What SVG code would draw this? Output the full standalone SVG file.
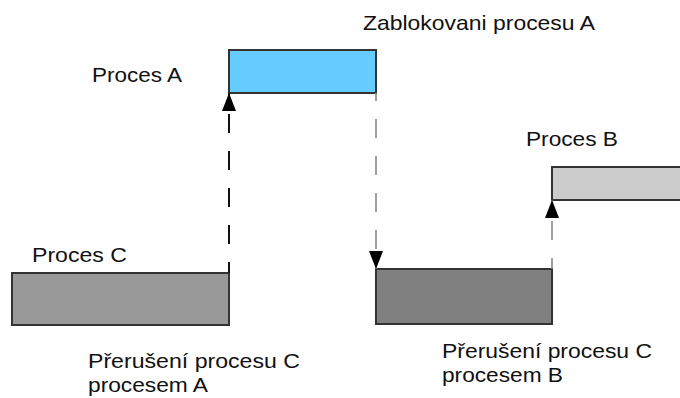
<svg xmlns="http://www.w3.org/2000/svg" width="680" height="398" viewBox="0 0 680 398">
  <style>
    .lbl { font-family: "Liberation Sans", Arial, sans-serif; font-size: 21px; fill: #111; }
    .box { stroke: #333; stroke-width: 2; }
    .dash-strong { fill: none; stroke: #111; stroke-width: 2; stroke-dasharray: 19 18; }
    .dash-light { fill: none; stroke: #888; stroke-width: 1.6; stroke-dasharray: 19 18; }
  </style>
  <defs>
    <marker id="head" markerUnits="userSpaceOnUse" markerWidth="18" markerHeight="14" viewBox="0 0 18 14" refX="18" refY="7" orient="auto">
      <path d="M0,0 L18,7 L0,14 Z" fill="#000"/>
    </marker>
  </defs>

  <rect width="680" height="398" fill="#fff"/>

  <text class="lbl" x="363" y="30" textLength="232" lengthAdjust="spacingAndGlyphs">Zablokovani procesu A</text>

  <g id="proces-a">
    <rect class="box" x="229" y="50" width="147" height="43" fill="#66CCFF"/>
    <text class="lbl" x="92" y="82" textLength="90" lengthAdjust="spacingAndGlyphs">Proces A</text>
  </g>

  <g id="proces-b">
    <rect class="box" x="552" y="167" width="132" height="33" fill="#CCCCCC"/>
    <text class="lbl" x="526" y="146" textLength="92" lengthAdjust="spacingAndGlyphs">Proces B</text>
  </g>

  <g id="proces-c">
    <rect class="box" x="12" y="273" width="217" height="52" fill="#999999"/>
    <text class="lbl" x="32" y="262" textLength="95" lengthAdjust="spacingAndGlyphs">Proces C</text>
  </g>

  <g id="proces-c-2">
    <rect class="box" x="376" y="269" width="176" height="55" fill="#808080"/>
  </g>

  <g id="connectors">
    <path class="dash-strong" d="M229,273 L229,93" stroke-dashoffset="8" marker-end="url(#head)"/>
    <path class="dash-light" d="M376,93 L376,269" stroke-dashoffset="11" marker-end="url(#head)"/>
    <path class="dash-light" d="M552,269 L552,200" stroke-dashoffset="8" marker-end="url(#head)"/>
  </g>

  <g id="note-a">
    <text class="lbl" x="88" y="368" textLength="212" lengthAdjust="spacingAndGlyphs">Přerušení procesu C</text>
    <text class="lbl" x="88" y="392" textLength="120" lengthAdjust="spacingAndGlyphs">procesem A</text>
  </g>

  <g id="note-b">
    <text class="lbl" x="442" y="358" textLength="210" lengthAdjust="spacingAndGlyphs">Přerušení procesu C</text>
    <text class="lbl" x="442" y="382" textLength="121" lengthAdjust="spacingAndGlyphs">procesem B</text>
  </g>
</svg>
